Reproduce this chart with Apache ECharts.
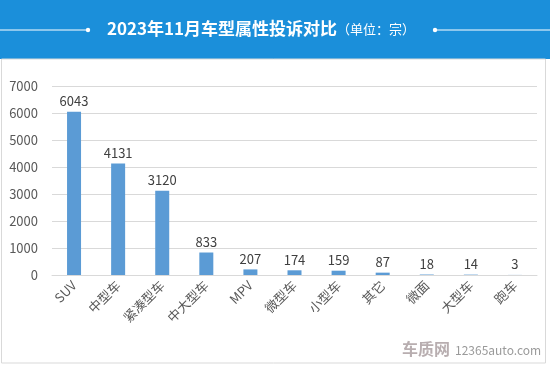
<!DOCTYPE html>
<html><head><meta charset="utf-8">
<script src="https://cdn.jsdelivr.net/npm/echarts@6/dist/echarts.min.js"></script>
<style>html,body{margin:0;padding:0;background:#fff}#c{width:550px;height:365px}</style>
</head><body><div id="c"></div>
<script>
const categories = ['SUV','中型车','紧凑型车','中大型车','MPV','微型车','小型车','其它','微面','大型车','跑车'];
const values = [6043,4131,3120,833,207,174,159,87,18,14,3];
const yTicks = [0,1000,2000,3000,4000,5000,6000,7000];

const chart = echarts.init(document.getElementById('c'));
const font = '"Microsoft YaHei","Noto Sans CJK SC",sans-serif';
chart.setOption({
  animation:false,
  backgroundColor:'#fff',
  textStyle:{fontFamily:font},
  grid:{left:52,right:13,top:86,bottom:90},
  xAxis:{type:'category',data:categories,
    axisLine:{lineStyle:{color:'#d9d9d9'}},axisTick:{show:false},
    axisLabel:{rotate:45,color:'#595959',fontSize:13,margin:8,interval:0,fontFamily:font}},
  yAxis:{type:'value',min:yTicks[0],max:yTicks[yTicks.length-1],interval:1000,
    axisLine:{show:false},axisTick:{show:false},
    axisLabel:{color:'#595959',fontSize:13,margin:14,fontFamily:font,formatter:v=>String(v)},
    splitLine:{lineStyle:{color:'#d9d9d9'}}},
  series:[{type:'bar',data:values,barWidth:14,itemStyle:{color:'#5b9bd5'},
    label:{show:true,position:'top',color:'#404040',fontSize:13,distance:4,fontFamily:font}}],
  graphic:[
    {type:'rect',shape:{x:0,y:0,width:550,height:59},style:{fill:'#1b8fda'},z:-1},
    {type:'rect',shape:{x:1.5,y:59,width:544,height:304},style:{fill:'none',stroke:'#d9d9d9',lineWidth:1},z:-1},
    {type:'line',shape:{x1:0,y1:30,x2:88,y2:30},style:{stroke:'#fff',lineWidth:1}},
    {type:'circle',shape:{cx:88,cy:30,r:2.2},style:{fill:'#fff'}},
    {type:'line',shape:{x1:435,y1:30,x2:550,y2:30},style:{stroke:'#fff',lineWidth:1}},
    {type:'circle',shape:{cx:435,cy:30,r:2.2},style:{fill:'#fff'}},
    {type:'text',x:261,y:29,style:{text:'{a|2023年11月车型属性投诉对比}{b|（单位：宗）}',
      align:'center',verticalAlign:'middle',
      rich:{a:{fontSize:17,fontWeight:'bold',fill:'#fff',fontFamily:font},
            b:{fontSize:13,fill:'#fff',fontFamily:font}}}},
    {type:'text',x:455,y:350,style:{text:'12365auto.com',fontSize:12,fill:'#9a9a9a',fontFamily:font,verticalAlign:'middle'}},
    {type:'text',x:402,y:349,style:{text:'车质网',fontSize:16,fontWeight:'bold',fill:'#b8aeb0',fontFamily:font,verticalAlign:'middle'}}
  ]
});
</script></body></html>
